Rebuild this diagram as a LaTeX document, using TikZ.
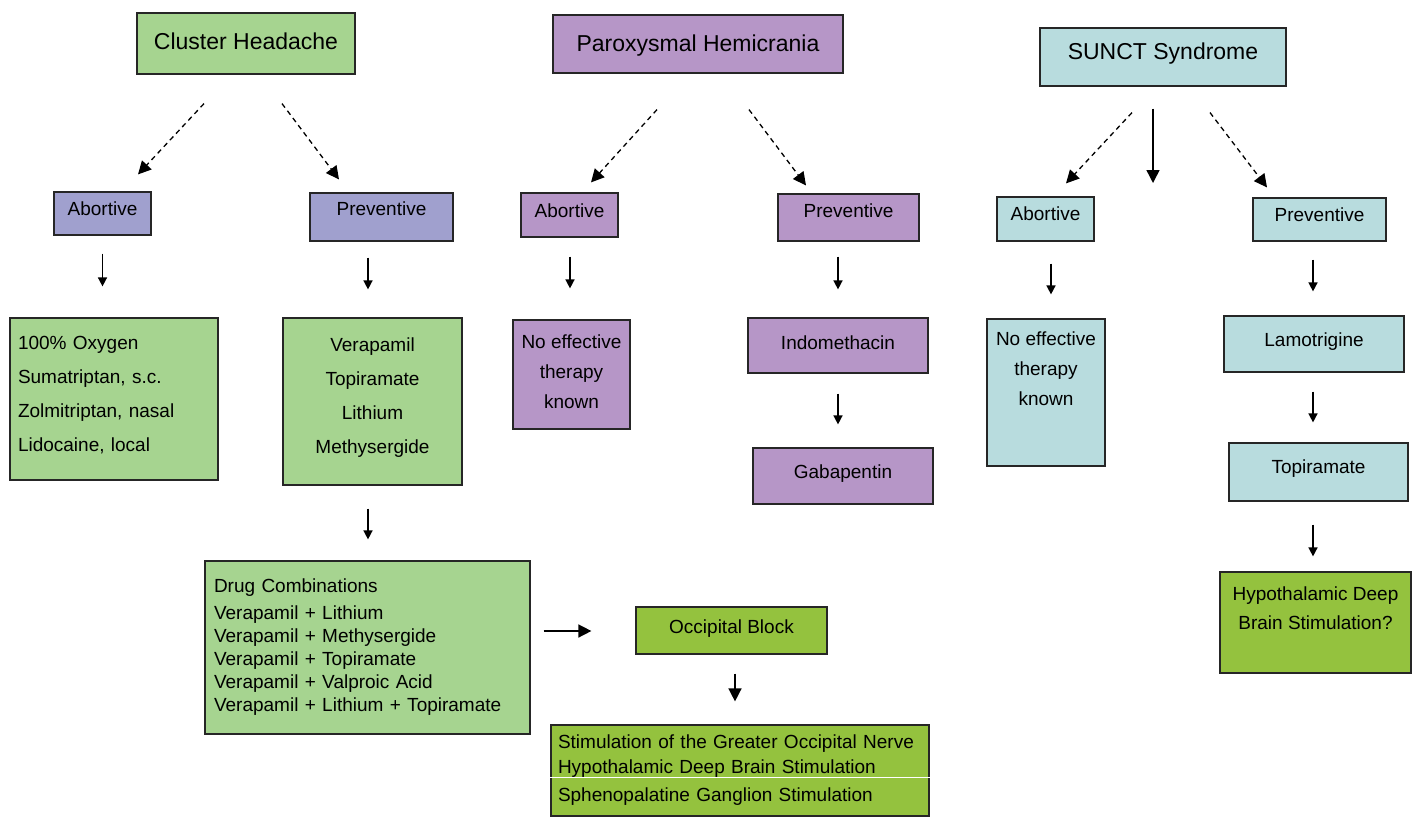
\documentclass[tikz,border=0pt]{standalone}
\usepackage{fontspec}
\setmainfont{Liberation Sans}
\usetikzlibrary{arrows.meta}
\definecolor{chgreen}{RGB}{166,212,144}
\definecolor{chblue}{RGB}{160,160,206}
\definecolor{phpurple}{RGB}{182,150,199}
\definecolor{scyan}{RGB}{184,220,222}
\definecolor{brightgreen}{RGB}{148,194,62}

\tikzset{
  box/.style={draw=black!85, line width=1.2pt, font=\fontsize{19}{23}\selectfont},
  onebox/.style n args={3}{box, anchor=base, inner ysep=0pt, minimum width=#1pt, text height=#2pt, text depth=#3pt},
  listbox/.style 2 args={box, minimum width=#1pt, minimum height=#2pt},
  title/.style={font=\fontsize{23}{27}\selectfont},
  arr/.style={-{Triangle[length=9pt,width=9pt]}, line width=1.5pt},
  bigarr/.style={-{Triangle[length=13pt,width=13pt]}, line width=1.5pt},
  dasharr/.style={bigarr, line width=1.3pt, dash pattern=on 5pt off 4pt}
}

\begin{document}
\begin{tikzpicture}[x=1pt, y=-1pt]
\useasboundingbox (0,0) rectangle (1416,817);

% Cluster headache
\node[onebox={218}{36}{25}, title, fill=chgreen] (cluster) at (246,49) {Cluster Headache};
\node[onebox={97}{23}{20}, fill=chblue] (chabort) at (102.5,215) {Abortive};
\node[onebox={143}{22}{26}, fill=chblue] (chprev) at (381.5,215) {Preventive};
\node[listbox={208}{162}, fill=chgreen, font=\fontsize{19}{34}\selectfont, align=left, text width=192pt, inner xsep=8pt] (chablist) at (114,399) {100\% Oxygen\\Sumatriptan, s.c.\\Zolmitriptan, nasal\\Lidocaine, local\\[-24pt]\mbox{}};
\node[listbox={179}{167}, fill=chgreen, font=\fontsize{19}{34}\selectfont, align=center] (chprevlist) at (372.5,401.5) {Verapamil\\Topiramate\\Lithium\\Methysergide\\[-22pt]\mbox{}};
\node[listbox={325}{173}, fill=chgreen, align=left, text width=307pt, inner xsep=9pt] (combos) at (367.5,647.5) {Drug Combinations\\[4pt]Verapamil + Lithium\\Verapamil + Methysergide\\Verapamil + Topiramate\\Verapamil + Valproic Acid\\Verapamil + Lithium + Topiramate};
\node[onebox={191}{26}{21}, fill=brightgreen] (occipital) at (731.5,633) {Occipital Block};
\node[listbox={378}{91}, fill=brightgreen, font=\fontsize{19}{25}\selectfont, align=left, text width=364pt, inner xsep=7pt] (stim) at (740,770.5) {Stimulation of the Greater Occipital Nerve\\Hypothalamic Deep Brain Stimulation\\[3pt]Sphenopalatine Ganglion Stimulation};
\draw[white, line width=1pt] ([yshift=-53pt]stim.north west) -- ([yshift=-53pt]stim.north east);

% Paroxysmal hemicrania
\node[onebox={290}{36}{22}, title, fill=phpurple] (parox) at (698,51) {Paroxysmal Hemicrania};
\node[onebox={97}{24}{20}, fill=phpurple] (phabort) at (569.5,217) {Abortive};
\node[onebox={141}{23.5}{23.5}, fill=phpurple] (phprev) at (848.5,217.5) {Preventive};
\node[listbox={117}{109}, fill=phpurple, font=\fontsize{19}{30}\selectfont, align=center] (phnone) at (571.5,374.5) {No effective\\therapy\\known\\[-24pt]\mbox{}};
\node[onebox={180}{31}{24}, fill=phpurple] (indo) at (838,349) {Indomethacin};
\node[onebox={180}{30}{26}, fill=phpurple] (gaba) at (843,478) {Gabapentin};

% SUNCT
\node[onebox={246}{31.5}{26.5}, title, fill=scyan] (sunct) at (1163,59.5) {SUNCT Syndrome};
\node[onebox={97}{23}{21}, fill=scyan] (sabort) at (1045.5,220) {Abortive};
\node[onebox={133}{23}{20}, fill=scyan] (sprev) at (1319.5,221) {Preventive};
\node[listbox={118}{147}, fill=scyan, font=\fontsize{19}{30}\selectfont, align=center] (snone) at (1046,392.5) {No effective\\therapy\\known\\[18pt]\mbox{}};
\node[onebox={180}{30}{26}, fill=scyan] (lamo) at (1314,346) {Lamotrigine};
\node[onebox={179}{30}{28}, fill=scyan] (stopi) at (1318.5,473) {Topiramate};
\node[listbox={191}{101}, fill=brightgreen, font=\fontsize{19}{29}\selectfont, align=center] (dbs) at (1315.5,622.5) {Hypothalamic Deep\\Brain Stimulation?\\ \mbox{}};

% Dashed arrows
\draw[dasharr] ([xshift=-42pt,yshift=-29pt]cluster.south) -- ([xshift=35.5pt,yshift=17pt]chabort.north);
\draw[dasharr] ([xshift=36pt,yshift=-29pt]cluster.south) -- ([xshift=-42.5pt,yshift=13pt]chprev.north);
\draw[dasharr] ([xshift=-41pt,yshift=-36pt]parox.south) -- ([xshift=21.5pt,yshift=10pt]phabort.north);
\draw[dasharr] ([xshift=51pt,yshift=-36pt]parox.south) -- ([xshift=-42.5pt,yshift=8pt]phprev.north);
\draw[dasharr] ([xshift=-31pt,yshift=-26pt]sunct.south) -- ([xshift=20.5pt,yshift=13pt]sabort.north);
\draw[dasharr] ([xshift=47pt,yshift=-26pt]sunct.south) -- ([xshift=-52.5pt,yshift=10pt]sprev.north);
\coordinate (sunctmid) at (1153,183);
\draw[bigarr] ([xshift=-10pt,yshift=-22pt]sunct.south) -- (sunctmid);

% Down arrows
\draw[arr] ([yshift=-18pt]chabort.south) -- ([xshift=-11.5pt,yshift=31pt]chablist.north);
\draw[arr] ([xshift=-13.5pt,yshift=-16pt]chprev.south) -- ([xshift=-4.5pt,yshift=28pt]chprevlist.north);
\draw[arr] ([xshift=-4.5pt,yshift=-23pt]chprevlist.south) -- ([xshift=0.5pt,yshift=21pt]combos.north);
\draw[bigarr] ([xshift=13pt,yshift=16.5pt]combos.east) -- ([xshift=-44pt,yshift=-0.5pt]occipital.west);
\draw[bigarr] ([xshift=3.5pt,yshift=-19pt]occipital.south) -- ([xshift=-5pt,yshift=23pt]stim.north);
\draw[arr] ([xshift=0.5pt,yshift=-19pt]phabort.south) -- ([xshift=-1.5pt,yshift=31pt]phnone.north);
\draw[arr] ([xshift=-10.5pt,yshift=-15pt]phprev.south) -- ([yshift=28pt]indo.north);
\draw[arr] ([yshift=-20pt]indo.south) -- ([xshift=-5pt,yshift=23pt]gaba.north);
\draw[arr] ([xshift=5.5pt,yshift=-22pt]sabort.south) -- ([xshift=5pt,yshift=24pt]snone.north);
\draw[arr] ([xshift=-6.5pt,yshift=-18pt]sprev.south) -- ([xshift=-1pt,yshift=24pt]lamo.north);
\draw[arr] ([xshift=-1pt,yshift=-19pt]lamo.south) -- ([xshift=-5.5pt,yshift=20pt]stopi.north);
\draw[arr] ([xshift=-5.5pt,yshift=-23pt]stopi.south) -- ([xshift=-2.5pt,yshift=15pt]dbs.north);

\end{tikzpicture}
\end{document}
